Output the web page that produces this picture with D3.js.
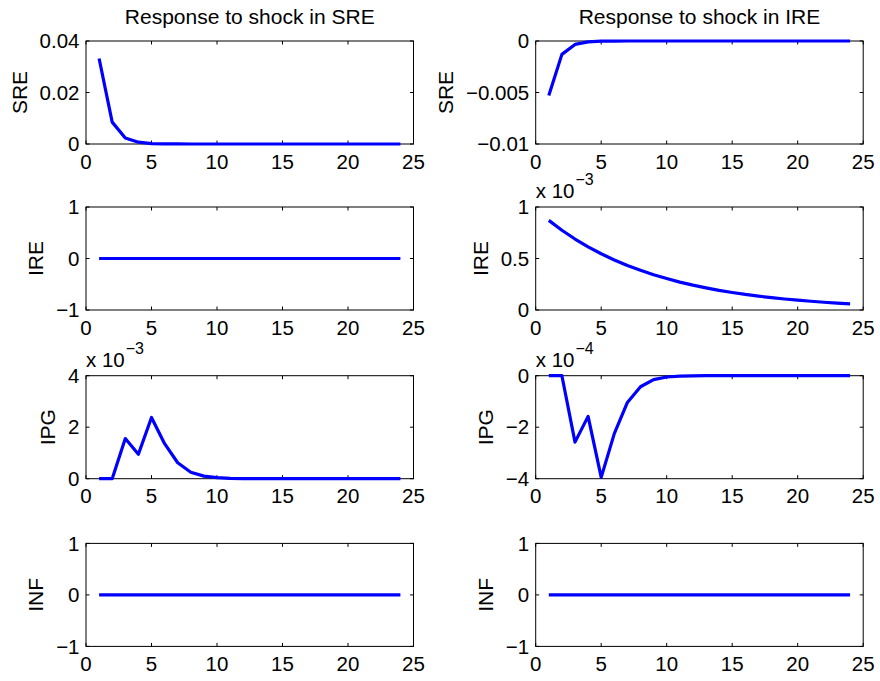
<!DOCTYPE html>
<html>
<head>
<meta charset="utf-8">
<script src="https://cdn.jsdelivr.net/npm/d3@7"></script>
<style>
  body { margin: 0; background: #fff; }
  svg { display: block; }
  text { font-family: "Liberation Sans", Arial, Helvetica, sans-serif; fill: #000; }
</style>
</head>
<body>
<div id="chart"></div>
<script>
// horizon 1..24
const periods = d3.range(1, 25);

const titles = ["Response to shock in SRE", "Response to shock in IRE"];
const varNames = ["SRE", "IRE", "IPG", "INF"];

// shock in SRE (left column)
const sreSRE = [0.0332, 0.0085, 0.0023, 0.0007, 0.00018, 0.00005, 0.00001, 0, 0, 0, 0, 0,
  0, 0, 0, 0, 0, 0, 0, 0, 0, 0, 0, 0];
const ireSRE = [0, 0, 0, 0, 0, 0, 0, 0, 0, 0, 0, 0, 0, 0, 0, 0, 0, 0, 0, 0, 0, 0, 0, 0];
const ipgSRE = [0, 0, 1.56e-3, 0.95e-3, 2.38e-3, 1.36e-3, 0.62e-3, 0.25e-3, 0.1e-3, 0.04e-3,
  0.015e-3, 0.006e-3, 0.002e-3, 0, 0, 0, 0, 0, 0, 0, 0, 0, 0, 0];
const infSRE = [0, 0, 0, 0, 0, 0, 0, 0, 0, 0, 0, 0, 0, 0, 0, 0, 0, 0, 0, 0, 0, 0, 0, 0];

// shock in IRE (right column)
const sreIRE = [-0.0053, -0.0013, -0.00033, -0.00008, -0.00002, -0.000005, 0, 0, 0, 0, 0, 0,
  0, 0, 0, 0, 0, 0, 0, 0, 0, 0, 0, 0];
const ireIRE = [0.87e-3, 0.774e-3, 0.689e-3, 0.613e-3, 0.546e-3, 0.486e-3, 0.432e-3, 0.385e-3,
  0.342e-3, 0.305e-3, 0.271e-3, 0.241e-3, 0.215e-3, 0.191e-3, 0.17e-3, 0.151e-3,
  0.135e-3, 0.12e-3, 0.107e-3, 0.095e-3, 0.085e-3, 0.075e-3, 0.067e-3, 0.06e-3];
const ipgIRE = [0, 0, -2.58e-4, -1.58e-4, -3.95e-4, -2.25e-4, -1.04e-4, -0.43e-4, -0.15e-4,
  -0.05e-4, -0.02e-4, -0.007e-4, 0, 0, 0, 0, 0, 0, 0, 0, 0, 0, 0, 0];
const infIRE = [0, 0, 0, 0, 0, 0, 0, 0, 0, 0, 0, 0, 0, 0, 0, 0, 0, 0, 0, 0, 0, 0, 0, 0];

const xTicks = [0, 5, 10, 15, 20, 25];

// y settings per panel: domain, ticks, exponent (null = none)
const panels = [
  [ { values: sreSRE, domain: [0, 0.04], ticks: [0, 0.02, 0.04], exp: null },
    { values: sreIRE, domain: [-0.01, 0], ticks: [-0.01, -0.005, 0], exp: null } ],
  [ { values: ireSRE, domain: [-1, 1], ticks: [-1, 0, 1], exp: null },
    { values: ireIRE, domain: [0, 1e-3], ticks: [0, 0.5e-3, 1e-3], exp: -3 } ],
  [ { values: ipgSRE, domain: [0, 4e-3], ticks: [0, 2e-3, 4e-3], exp: -3 },
    { values: ipgIRE, domain: [-4e-4, 0], ticks: [-4e-4, -2e-4, 0], exp: -4 } ],
  [ { values: infSRE, domain: [-1, 1], ticks: [-1, 0, 1], exp: null },
    { values: infIRE, domain: [-1, 1], ticks: [-1, 0, 1], exp: null } ]
];

const width = 880, height = 681;
const colLeft = [86, 535.7];
const axW = 327.5;
const rowTop = [41, 207, 375.7, 543.4];
const axH = 103;
const tickLen = 3.5;
const fontSize = 20.5;
const labelSize = 21;

const svg = d3.select("#chart").append("svg")
  .attr("width", width)
  .attr("height", height);

const minus = s => s.replace(/-/g, "\u2212");

panels.forEach((row, r) => {
  row.forEach((p, c) => {
    const x0 = colLeft[c], y0 = rowTop[r];
    const g = svg.append("g").attr("transform", `translate(${x0},${y0})`);

    const x = d3.scaleLinear().domain([0, 25]).range([0, axW]);
    const y = d3.scaleLinear().domain(p.domain).range([axH, 0]);
    const scale = p.exp === null ? 1 : Math.pow(10, -p.exp);
    const fmt = v => minus(String(+(v * scale).toPrecision(6)));

    // box
    g.append("rect")
      .attr("width", axW).attr("height", axH)
      .attr("fill", "none").attr("stroke", "#000").attr("stroke-width", 1);

    // inner ticks on all four sides
    const tickG = g.append("g").attr("stroke", "#000").attr("stroke-width", 1);
    xTicks.forEach(t => {
      tickG.append("line").attr("x1", x(t)).attr("x2", x(t)).attr("y1", axH).attr("y2", axH - tickLen);
      tickG.append("line").attr("x1", x(t)).attr("x2", x(t)).attr("y1", 0).attr("y2", tickLen);
    });
    p.ticks.forEach(t => {
      tickG.append("line").attr("x1", 0).attr("x2", tickLen).attr("y1", y(t)).attr("y2", y(t));
      tickG.append("line").attr("x1", axW).attr("x2", axW - tickLen).attr("y1", y(t)).attr("y2", y(t));
    });

    // x tick labels
    g.selectAll(".xl")
      .data(xTicks)
      .enter().append("text")
      .attr("x", d => x(d))
      .attr("y", axH + 24.5)
      .attr("text-anchor", "middle")
      .style("font-size", fontSize + "px")
      .text(d => d);

    // y tick labels
    const yl = g.selectAll(".yl")
      .data(p.ticks)
      .enter().append("text")
      .attr("x", -6.5)
      .attr("y", d => y(d))
      .attr("dy", "0.35em")
      .attr("text-anchor", "end")
      .style("font-size", fontSize + "px")
      .text(d => fmt(d));

    let maxW = 0;
    yl.each(function () { maxW = Math.max(maxW, this.getComputedTextLength()); });

    // y label
    g.append("text")
      .attr("transform", `translate(${-6.5 - maxW - 13},${axH / 2}) rotate(-90)`)
      .attr("text-anchor", "middle")
      .style("font-size", labelSize + "px")
      .text(varNames[r]);

    // exponent
    if (p.exp !== null) {
      const e = g.append("text")
        .attr("x", 0)
        .attr("y", -9)
        .style("font-size", fontSize + "px");
      e.append("tspan").text("x 10");
      e.append("tspan")
        .attr("dx", 1)
        .attr("dy", -13)
        .style("font-size", "16px")
        .text(minus(String(p.exp)));
    }

    // response line
    const line = d3.line()
      .x((d, i) => x(periods[i]))
      .y(d => y(d));
    g.append("path")
      .datum(p.values)
      .attr("fill", "none")
      .attr("stroke", "#0000ff")
      .attr("stroke-width", 3.2)
      .attr("stroke-linejoin", "round")
      .attr("d", line);

    // column title
    if (r === 0) {
      g.append("text")
        .attr("x", axW / 2)
        .attr("y", -17)
        .attr("text-anchor", "middle")
        .style("font-size", labelSize + "px")
        .text(titles[c]);
    }
  });
});
</script>
</body>
</html>
